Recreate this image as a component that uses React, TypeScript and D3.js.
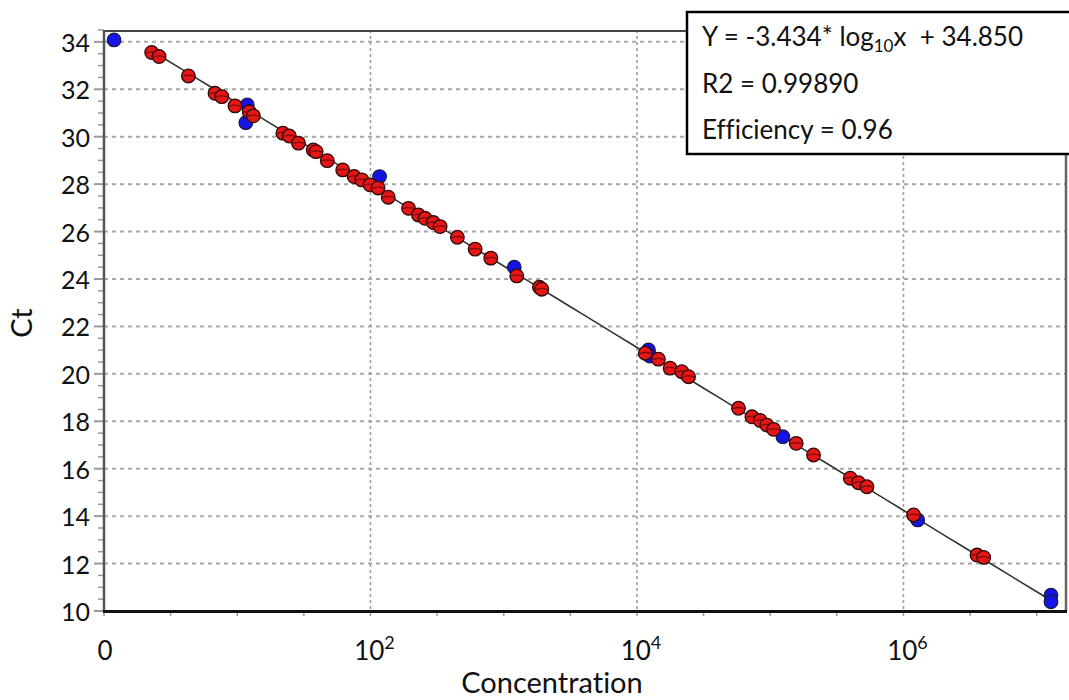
import React from "react";
import * as d3 from "d3";

// ---- data ----
const blueConc = [1.19, 11.9, 11.6, 117, 1200, 12200, 12500, 124500, 1280000, 12800000, 12800000];
const blueCt = [34.08, 31.34, 30.59, 28.32, 24.5, 21.01, 20.75, 17.35, 13.84, 10.67, 10.39];

const redConc = [
  2.28, 2.59, 4.3, 6.81, 7.66, 9.62, 12.3, 13.2, 22.0, 24.6, 28.8, 37.2, 39.1, 47.4, 61.9, 75.3, 86.1,
  99.3, 114, 136, 193, 229, 257, 296, 333, 449, 610, 800, 1253, 1853, 1932, 11530, 14490, 17740,
  21730, 24380, 57810, 72950, 84140, 94410, 105900, 156700, 211300, 399000, 460300, 532100, 1191000,
  3565000, 3999000,
];
const redCt = [
  33.55, 33.38, 32.56, 31.83, 31.69, 31.3, 31.05, 30.88, 30.15, 30.03, 29.73, 29.44, 29.37, 28.99,
  28.6, 28.32, 28.18, 27.97, 27.84, 27.45, 26.98, 26.7, 26.56, 26.38, 26.21, 25.76, 25.26, 24.88,
  24.13, 23.65, 23.57, 20.87, 20.62, 20.24, 20.09, 19.88, 18.55, 18.19, 18.03, 17.84, 17.66, 17.07,
  16.58, 15.6, 15.41, 15.24, 14.05, 12.36, 12.26,
];

const fitSlope = -3.434;
const fitIntercept = 34.85;
const fitRange = [2.15, 12800000];

const yTicks = [10, 12, 14, 16, 18, 20, 22, 24, 26, 28, 30, 32, 34];
const xGridExp = [2, 4, 6];
const xLabelExp = [0, 2, 4, 6];

const legendLines = ["R2 = 0.99890", "Efficiency = 0.96"];

const FONT = "Lato, 'Open Sans', sans-serif";

export default function App() {
  const W = 1069;
  const H = 700;
  const x = d3.scaleLog().domain([1, Math.pow(10, 7.22)]).range([104, 1066]);
  const y = d3.scaleLinear().domain([10, 34.5]).range([611, 30]);
  const [x0, x1] = x.range();
  const [yb, yt] = y.range();

  const minorY = d3.range(10, 34.51, 0.5).filter((v) => Math.abs(v / 2 - Math.round(v / 2)) > 1e-6);
  const minorXExp = d3.range(0, 7.01, 0.5);

  const fitPts = d3.range(0, 61).map((i) => {
    const lx = Math.log10(fitRange[0]) + (i / 60) * (Math.log10(fitRange[1]) - Math.log10(fitRange[0]));
    return [Math.pow(10, lx), fitSlope * lx + fitIntercept] as [number, number];
  });
  const line = d3
    .line<[number, number]>()
    .x((d) => x(d[0]))
    .y((d) => y(d[1]));

  const r = 6.8;
  const blue = blueConc.map((c, i) => ({ c, ct: blueCt[i] }));
  const red = redConc.map((c, i) => ({ c, ct: redCt[i] }));
  const noLig = { fontVariantLigatures: "none" as const };

  return (
    <svg
      width={W}
      height={H}
      style={{ position: "absolute", left: 0, top: 0, background: "#fff" }}
      fontFamily={FONT}
    >
      <rect x={0} y={0} width={W} height={H} fill="#fff" />
      {/* horizontal grid */}
      {yTicks
        .filter((t) => t > 10)
        .map((t) => (
          <line key={"hg" + t} x1={x0} x2={x1} y1={y(t)} y2={y(t)} stroke="#a8a8a8" strokeWidth={2} strokeDasharray="4,4" />
        ))}
      {/* vertical grid */}
      {xGridExp.map((e) => (
        <line
          key={"vg" + e}
          x1={x(Math.pow(10, e))}
          x2={x(Math.pow(10, e))}
          y1={yt}
          y2={yb}
          stroke="#a0a0a0"
          strokeWidth={1.6}
          strokeDasharray="3,3"
        />
      ))}
      {/* y ticks */}
      {yTicks.map((t) => (
        <line key={"yt" + t} x1={94} x2={x0} y1={y(t)} y2={y(t)} stroke="#999" strokeWidth={2} />
      ))}
      {minorY.map((t) => (
        <line key={"ym" + t} x1={98} x2={x0} y1={y(t)} y2={y(t)} stroke="#999" strokeWidth={1.5} />
      ))}
      {/* x ticks */}
      {minorXExp.map((e) => (
        <line
          key={"xm" + e}
          x1={x(Math.pow(10, e))}
          x2={x(Math.pow(10, e))}
          y1={yb}
          y2={yb + 5}
          stroke="#999"
          strokeWidth={1.5}
        />
      ))}
      {/* frame */}
      <line x1={x0} x2={x1} y1={yt + 1} y2={yt + 1} stroke="#444" strokeWidth={2} />
      <line x1={x1} x2={x1} y1={yt} y2={yb} stroke="#666" strokeWidth={2.5} />
      <line x1={x0} x2={x0} y1={yt} y2={yb} stroke="#555" strokeWidth={2.5} />
      <line x1={x0 - 1} x2={x1 + 1} y1={yb + 0.5} y2={yb + 0.5} stroke="#111" strokeWidth={3} />

      {/* fit line */}
      <path d={line(fitPts) || ""} fill="none" stroke="#333" strokeWidth={1.6} />

      {/* points */}
      {blue.map((d, i) => (
        <circle key={"b" + i} cx={x(d.c)} cy={y(d.ct)} r={r} fill="#1414e6" stroke="#1a1a40" strokeWidth={1.2} />
      ))}
      {red.map((d, i) => (
        <g key={"r" + i}>
          <circle cx={x(d.c)} cy={y(d.ct)} r={r} fill="#e41616" stroke="#300808" strokeWidth={1.3} />
          <path
            d={`M${x(d.c) - r + 1},${y(d.ct) + 0.5} Q${x(d.c)},${y(d.ct) - 2} ${x(d.c) + r - 1},${y(d.ct) + 0.5}`}
            fill="none"
            stroke="#5a0a0a"
            strokeWidth={1.3}
            opacity={0.75}
          />
        </g>
      ))}

      {/* y labels */}
      {yTicks.map((t) => (
        <text key={"yl" + t} x={90} y={y(t)} textAnchor="end" dominantBaseline="central" fontSize={25} fill="#111">
          {t}
        </text>
      ))}
      {/* x labels */}
      {xLabelExp.map((e) =>
        e === 0 ? (
          <text key={"xl" + e} x={x(1) + 1} y={660} textAnchor="middle" fontSize={26} fill="#111">
            0
          </text>
        ) : (
          <text key={"xl" + e} x={x(Math.pow(10, e)) + 4} y={660} textAnchor="middle" fontSize={26} fill="#111">
            10
            <tspan fontSize={18} dy={-11}>
              {e}
            </tspan>
          </text>
        )
      )}
      <text x={552} y={693} textAnchor="middle" fontSize={29} fill="#111" style={noLig}>
        Concentration
      </text>
      <text transform={`translate(32,323) rotate(-90)`} textAnchor="middle" fontSize={29} fill="#111">
        Ct
      </text>

      {/* legend box */}
      <rect x={687} y={12} width={420} height={142} fill="#fff" stroke="#000" strokeWidth={2.5} />
      <text x={702} y={45.5} fontSize={26} fill="#111" style={{ whiteSpace: "pre" }}>
        {"Y = -3.434* log"}
        <tspan fontSize={17} dy={6}>
          10
        </tspan>
        <tspan dy={-6}>{"x  + 34.850"}</tspan>
      </text>
      {legendLines.map((s, i) => (
        <text key={"lg" + i} x={702} y={92.5 + i * 46} fontSize={26} fill="#111" style={noLig}>
          {s}
        </text>
      ))}
    </svg>
  );
}
